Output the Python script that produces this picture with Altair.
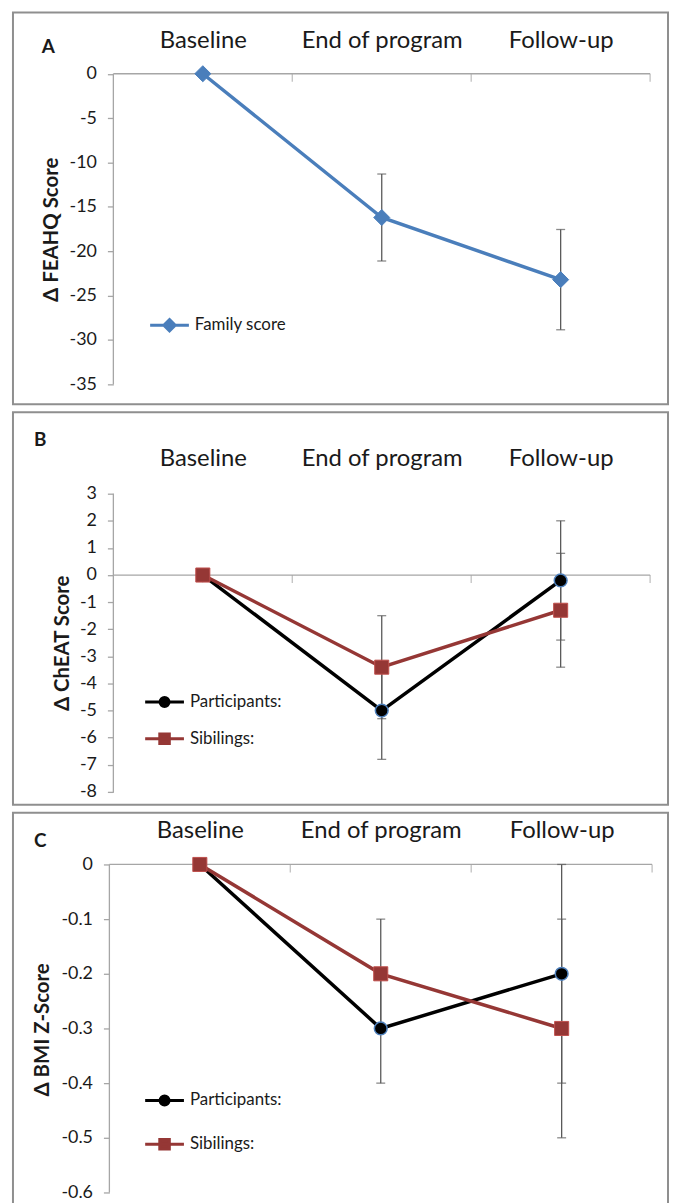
import json
import altair as alt
import pandas as pd

# ---------------- data ----------------
categories = ["Baseline", "End of program", "Follow-up"]

# Panel A - FEAHQ family score
a_family_mean = [0, -16.2, -23.2]
a_family_err = [0, 4.9, 5.65]
a_ticks = [0, -5, -10, -15, -20, -25, -30, -35]

# Panel B - ChEAT score
b_participants_mean = [0, -5.0, -0.2]
b_participants_err = [0, 1.8, 2.2]
b_siblings_mean = [0, -3.4, -1.3]
b_siblings_err = [0, 1.9, 2.1]
b_ticks = [3, 2, 1, 0, -1, -2, -3, -4, -5, -6, -7, -8]

# Panel C - BMI z-score
c_participants_mean = [0, -0.3, -0.2]
c_participants_err = [0, 0.1, 0.2]
c_siblings_mean = [0, -0.2, -0.3]
c_siblings_err = [0, 0.1, 0.2]
c_ticks = [0, -0.1, -0.2, -0.3, -0.4, -0.5, -0.6]

# ---------------- style ----------------
FONT = "Lato"
TEXT = "#1a1a1a"
AXIS_GREY = "#a6a6a6"
ERR_GREY = "#595959"
FRAME = "#8f8f8f"
BLUE = "#4a7ebb"
RED = "#953735"

LINE_PATH = "M-3.25,0L3.25,0"
DIAMOND_PATH = LINE_PATH + "M0,-0.95L0.95,0L0,0.95L-0.95,0Z"
CIRCLE_PATH = LINE_PATH + "M-0.75,0A0.75,0.75,0,1,0,0.75,0A0.75,0.75,0,1,0,-0.75,0Z"
SQUARE_PATH = LINE_PATH + "M-0.8,-0.8L0.8,-0.8L0.8,0.8L-0.8,0.8Z"

family = [dict(name="Family score", mean=a_family_mean, err=a_family_err,
               color=BLUE, shape="diamond", size=260, fill=BLUE, stroke=BLUE,
               sw=1, path=DIAMOND_PATH)]


def two_series(pm, pe, sm, se):
    return [
        dict(name="Participants:", mean=pm, err=pe, color="#000000",
             shape="circle", size=165, fill="#000000", stroke="#4f81bd",
             sw=1.5, path=CIRCLE_PATH),
        dict(name="Sibilings:", mean=sm, err=se, color=RED,
             shape="square", size=200, fill=RED, stroke="#c0504d",
             sw=1, path=SQUARE_PATH),
    ]


def series_frame(series):
    rows = []
    for s in series:
        for i, cat in enumerate(categories):
            m, e = s["mean"][i], s["err"][i]
            rows.append({"series": s["name"], "pos": i + 1, "category": cat,
                         "mean": m, "err": e, "lo": m - e, "hi": m + e})
    return pd.DataFrame(rows)


def panel(letter, ytitle, ticks, series, P):
    df = series_frame(series)
    names = [s["name"] for s in series]
    n = len(categories)
    xs = alt.Scale(domain=P["xdomain"], nice=False, zero=False)
    ys = alt.Scale(domain=P["ydomain"], nice=False, zero=False)

    top_axis = alt.Axis(
        orient="top", values=list(range(1, n + 1)),
        labelExpr="%s[datum.value - 1]" % json.dumps(categories),
        ticks=False, tickSize=0, domain=False, grid=False,
        labelPadding=0, labelBaseline="middle", labelFont=FONT,
        labelFontSize=24, labelColor=TEXT, labelFlush=False,
        labelOverlap=False, offset=-P["cat_y"],
        title=letter, titleX=P["letter_x"], titleY=P["letter_y"] - P["cat_y"],
        titleFont=FONT, titleFontSize=19, titleFontWeight="bold",
        titleColor=TEXT, titleAlign="center", titleBaseline="middle",
        titleAngle=0)
    left_axis = alt.Axis(
        orient="left", values=ticks, labelExpr="'' + datum.value",
        domain=False, grid=False, ticks=True, tickSize=6,
        tickColor=AXIS_GREY, tickWidth=1.3, labelPadding=11, labelFont=FONT,
        labelFontSize=18, labelColor=TEXT, labelFlush=False,
        labelOverlap=False, offset=P["yaxis_offset"],
        title=ytitle, titleX=P["title_x"], titleY=P["title_y"],
        titleFont=FONT, titleFontSize=20.5, titleFontWeight="bold",
        titleColor=TEXT, titleAngle=270, titleAlign="center",
        titleBaseline="middle")

    axis_df = pd.DataFrame({"x0": [0.5], "x1": [n + 0.5],
                            "ytop": [max(ticks)], "ybot": [min(ticks)],
                            "zero": [0]})
    bound_df = pd.DataFrame({"b": [i + 0.5 for i in range(1, n + 1)],
                             "zero": [0] * n})

    # every layer carries the same axis definitions so they merge cleanly
    X = lambda f: alt.X(f, scale=xs, axis=top_axis)
    Y = lambda f: alt.Y(f, scale=ys, axis=left_axis)

    yline = alt.Chart(axis_df).mark_rule(color=AXIS_GREY, strokeWidth=1.3).encode(
        x=X("x0:Q"), y=Y("ytop:Q"), y2="ybot:Q")
    xline = alt.Chart(axis_df).mark_rule(color=AXIS_GREY, strokeWidth=1.3).encode(
        x=X("x0:Q"), x2="x1:Q", y=Y("zero:Q"))
    bticks = alt.Chart(bound_df).mark_tick(
        orient="vertical", size=8, thickness=1.3, yOffset=4,
        color=AXIS_GREY).encode(x=X("b:Q"), y=Y("zero:Q"))

    lines = []
    markers = []
    for s in series:
        sdf = df[df["series"] == s["name"]]
        lines.append(alt.Chart(sdf).mark_line(
            strokeWidth=3.5, color=s["color"]).encode(
            x=X("pos:Q"), y=Y("mean:Q")))
        markers.append(alt.Chart(sdf).mark_point(
            shape=s["shape"], filled=True, size=s["size"], fill=s["fill"],
            stroke=s["stroke"], strokeWidth=s["sw"], opacity=1).encode(
            x=X("pos:Q"), y=Y("mean:Q")))

    err_df = df[df["err"] > 0]
    erule = alt.Chart(err_df).mark_rule(color=ERR_GREY, strokeWidth=1.3).encode(
        x=X("pos:Q"), y=Y("lo:Q"), y2="hi:Q")
    ecaps = alt.Chart(err_df).transform_fold(
        ["lo", "hi"], as_=["end", "val"]).mark_tick(
        orient="horizontal", size=9, thickness=1.3, color=ERR_GREY).encode(
        x=X("pos:Q"), y=Y("val:Q"))

    leg = alt.Legend(
        orient="none", legendX=P["leg_x"], legendY=P["leg_y"], title=None,
        direction="vertical", padding=0, rowPadding=P["row_pad"],
        labelOffset=17, labelFont=FONT, labelFontSize=17, labelColor=TEXT,
        symbolSize=144, symbolStrokeWidth=3, symbolOpacity=1)
    # legend-only layer: no rows are drawn, the scales carry the entries
    legend_layer = alt.Chart(df).transform_filter("false").mark_point(
        filled=True).encode(
        x=X("pos:Q"), y=Y("mean:Q"),
        fill=alt.Fill("series:N", scale=alt.Scale(
            domain=names, range=[s["fill"] for s in series]), legend=leg),
        stroke=alt.Stroke("series:N", scale=alt.Scale(
            domain=names, range=[s["color"] for s in series]), legend=leg),
        shape=alt.Shape("series:N", scale=alt.Scale(
            domain=names, range=[s["path"] for s in series]), legend=leg))

    return alt.layer(yline, xline, bticks, *lines, erule, ecaps, legend_layer,
                     *markers).properties(width=659, height=P["height"])


pA = panel("A", "Δ FEAHQ Score", a_ticks, family, dict(
    height=394, xdomain=[-0.06111, 3.6], ydomain=[-37.24, 6.888],
    yaxis_offset=-101, cat_y=28, letter_x=35, letter_y=34,
    title_x=-62, title_y=218, leg_x=149, leg_y=306, row_pad=0))

pB = panel("B", "Δ ChEAT Score", b_ticks,
           two_series(b_participants_mean, b_participants_err,
                      b_siblings_mean, b_siblings_err), dict(
    height=395, xdomain=[-0.06111, 3.6], ydomain=[-8.477, 6.007],
    yaxis_offset=-101, cat_y=47, letter_x=27, letter_y=28,
    title_x=-51, title_y=232, leg_x=144, leg_y=283, row_pad=15))

pC = panel("C", "Δ BMI Z-Score", c_ticks,
           two_series(c_participants_mean, c_participants_err,
                      c_siblings_mean, c_siblings_err), dict(
    height=394, xdomain=[-0.03297, 3.5879], ydomain=[-0.6218, 0.09455],
    yaxis_offset=-97, cat_y=18, letter_x=27, letter_y=28,
    title_x=-67, title_y=218, leg_x=144, leg_y=281, row_pad=22))

PAD = {"left": 4, "top": 0, "right": 0, "bottom": 0}

chart = alt.vconcat(pA, pB, pC, spacing=6).resolve_scale(
    fill="independent", stroke="independent", shape="independent"
).resolve_legend(
    fill="independent", stroke="independent", shape="independent"
).properties(
    padding=PAD
).configure(font=FONT, padding=PAD).configure_view(stroke=FRAME, strokeWidth=2)

chart.save("out.html", embed_options={"renderer": "svg", "actions": False})
